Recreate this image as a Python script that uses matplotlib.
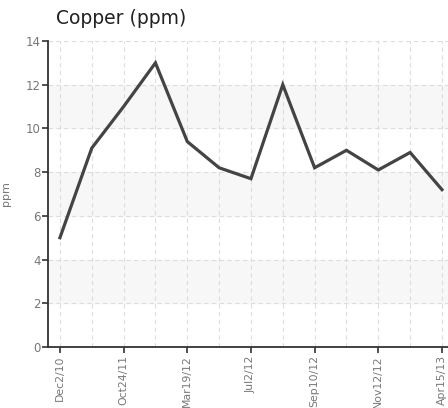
import numpy as np
import matplotlib.pyplot as plt

dates = ["Dec2/10", "", "Oct24/11", "", "Mar19/12", "", "Jul2/12", "",
         "Sep10/12", "", "Nov12/12", "", "Apr15/13"]
copper = [5.0, 9.1, 11.0, 13.0, 9.4, 8.2, 7.7, 12.0, 8.2, 9.0, 8.1, 8.9, 7.2]
y_ticks = [0, 2, 4, 6, 8, 10, 12, 14]

fig = plt.figure(figsize=(4.48, 4.08), dpi=100)
ax = fig.add_axes([0.107, 0.1495, 0.893, 0.75])

x = np.arange(len(copper))

# alternating bands
for lo in (2, 6, 10):
    ax.axhspan(lo, lo + 2, color='#f7f7f7', zorder=0)

ax.plot(x, copper, color='#444444', linewidth=2.3, solid_joinstyle='miter', zorder=3)

ax.set_xlim(-0.377, 12.19)
ax.set_ylim(0, 14)

major = [i for i, d in enumerate(dates) if d]
minor = [i for i, d in enumerate(dates) if not d]
ax.set_xticks(major)
ax.set_xticklabels([dates[i] for i in major], rotation=90, color='#777777', fontsize=7.8)
ax.set_xticks(minor, minor=True)
ax.set_yticks(y_ticks)
ax.set_yticklabels([str(v) for v in y_ticks], color='#777777', fontsize=8.5)

ax.grid(True, which='both', axis='x', linestyle=(0, (4, 3)), color='#dddddd', linewidth=0.8)
ax.grid(True, which='major', axis='y', linestyle=(0, (4, 3)), color='#dddddd', linewidth=0.8)
ax.set_axisbelow(True)

ax.tick_params(axis='x', which='major', direction='out', length=4, width=1.2, color='#333333', pad=2)
ax.tick_params(axis='x', which='minor', length=0)
ax.tick_params(axis='y', direction='out', length=4, width=1.2, color='#333333', pad=1)

for s in ('top', 'right'):
    ax.spines[s].set_visible(False)
for s in ('left', 'bottom'):
    ax.spines[s].set_color('#333333')
    ax.spines[s].set_linewidth(1.3)

ax.set_ylabel('ppm', color='#777777', fontsize=8, labelpad=11)
ax.set_title('Copper (ppm)', loc='left', fontsize=13.5, color='#222222', pad=12, x=0.02)

fig.savefig('out.png', dpi=100)
